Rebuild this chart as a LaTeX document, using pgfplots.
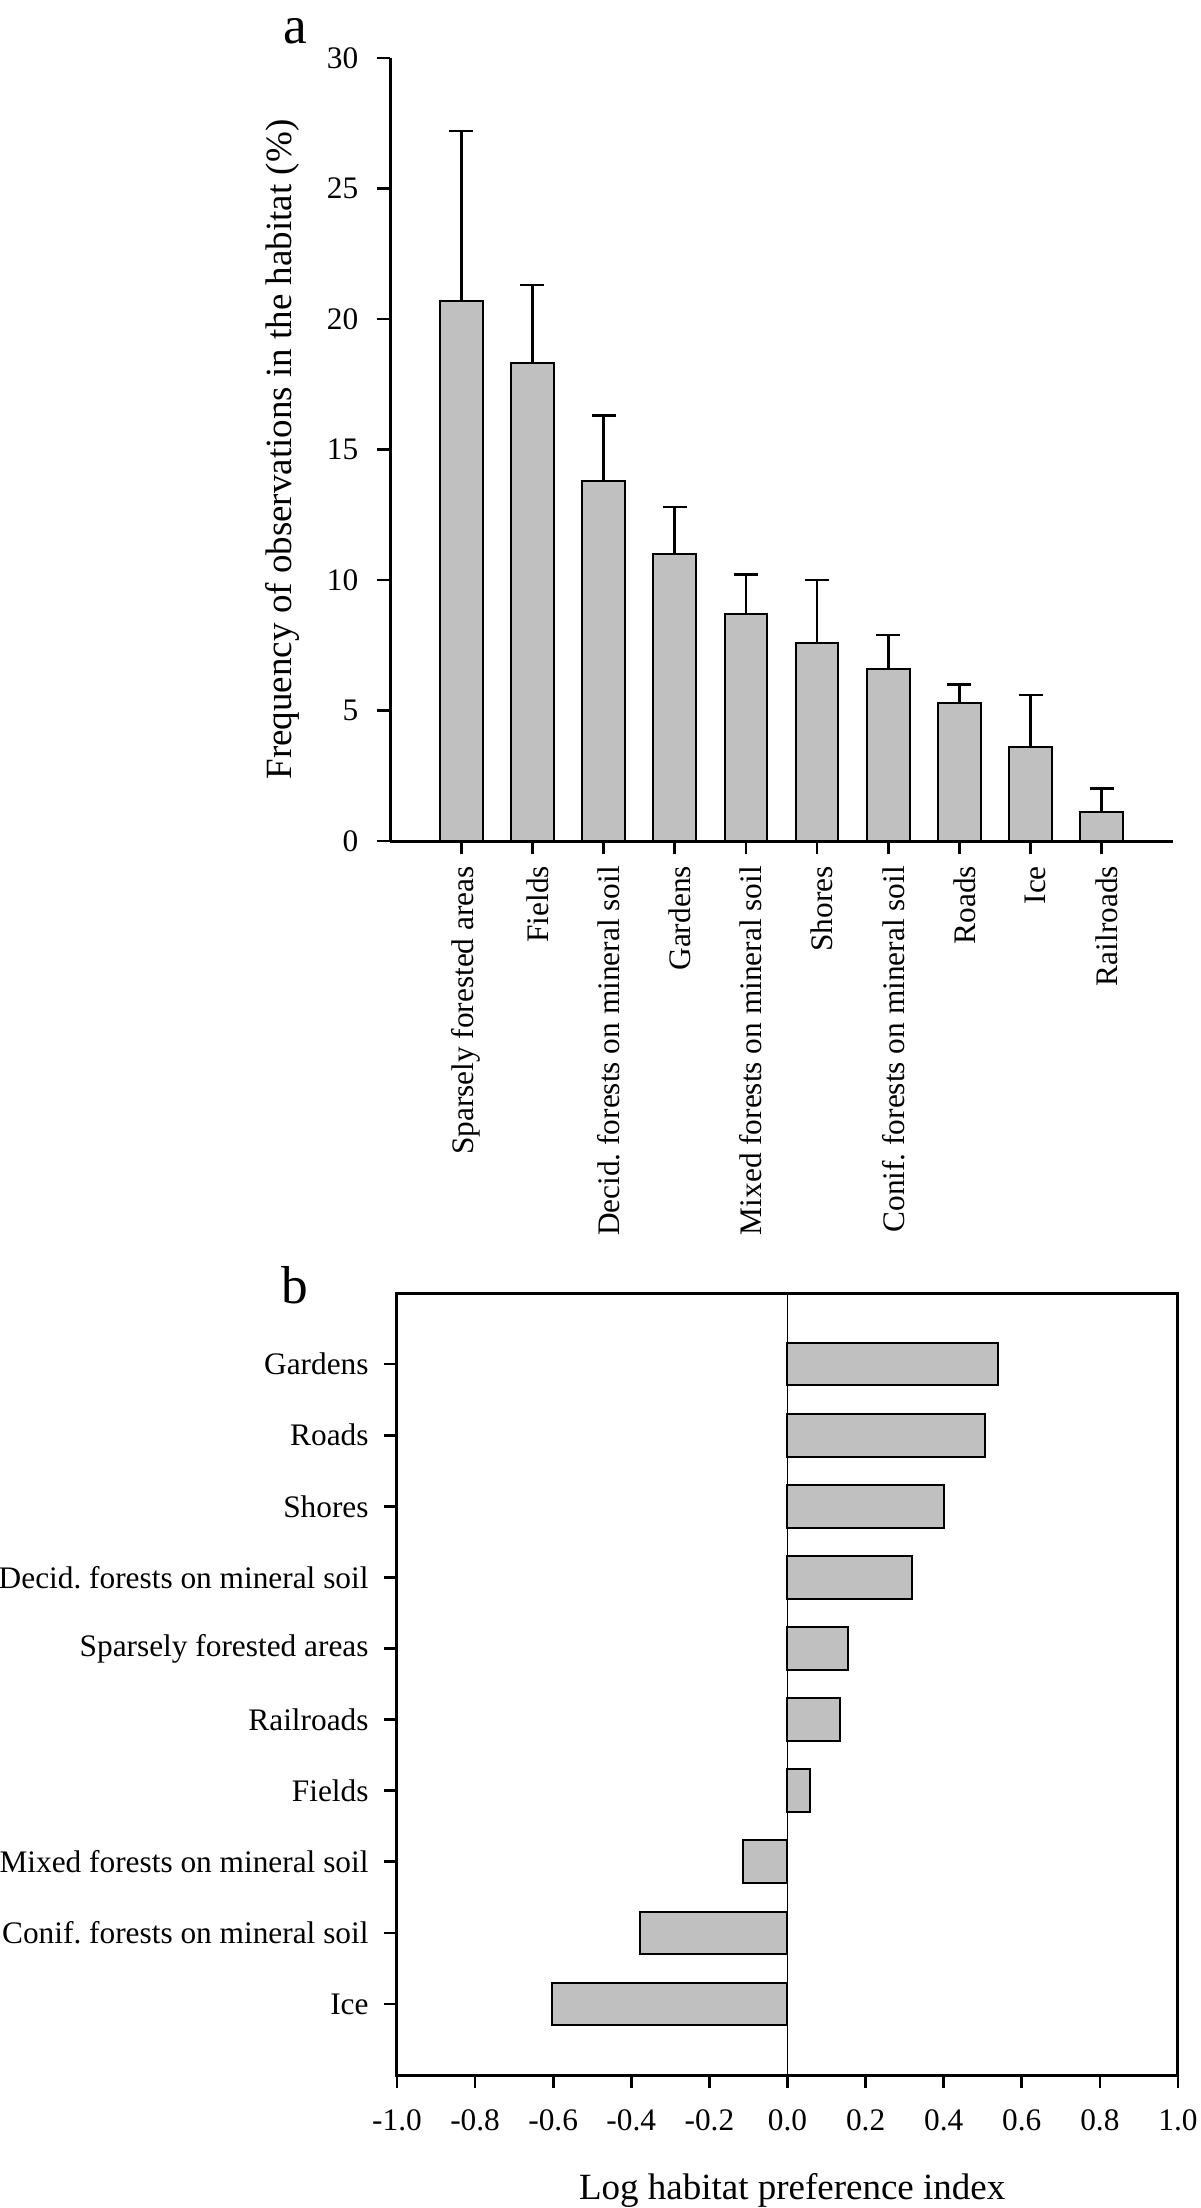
\documentclass[border=0pt]{standalone}
\usepackage{pgfplots}
\pgfplotsset{compat=1.18}
\usepackage{fontspec}
\setmainfont{Liberation Serif}
\definecolor{bargray}{RGB}{192,192,192}
\frenchspacing
\begin{document}
\begin{tikzpicture}
\useasboundingbox (0,0) rectangle (360pt,-662.4pt);
% ---------------- panel a ----------------
\begin{axis}[
  at={(117pt,-252.3pt)}, anchor=south west,
  scale only axis, width=234.9pt, height=234.9pt,
  axis lines=left, axis line style={-, line width=0.9pt},
  xmin=-1, xmax=10, ymin=0, ymax=30,
  ytick={0,5,...,30},
  xtick={0,...,9},
  xticklabels={Sparsely forested areas, Fields, Decid. forests on mineral soil, Gardens, Mixed forests on mineral soil, Shores, Conif. forests on mineral soil, Roads, Ice, Railroads},
  tick align=outside, major tick length=4pt,
  tick style={line width=0.8pt, black},
  /pgf/number format/assume math mode=true,
  ticklabel style={font=\fontsize{9.4}{10.5}\selectfont},
  yticklabel style={xshift=-2pt},
  xticklabel style={rotate=90, anchor=east, yshift=-1.5pt},
  ylabel={Frequency of observations in the habitat (\%)},
  ylabel style={at={(axis description cs:-0.1367,0.5)}, anchor=center, font=\fontsize{11.1}{13}\selectfont},
  clip=false,
]
\addplot[ybar, bar width=0.6, fill=bargray, draw=black, line width=0.6pt,
  error bars/.cd, y dir=plus, y explicit,
  error bar style={line width=0.8pt, black},
  error mark options={rotate=90, mark size=3.6pt, line width=0.8pt, black}]
  coordinates {
  (0,20.7) +- (0,6.5)
  (1,18.3) +- (0,3.0)
  (2,13.8) +- (0,2.5)
  (3,11.0) +- (0,1.8)
  (4,8.7) +- (0,1.5)
  (5,7.6) +- (0,2.4)
  (6,6.6) +- (0,1.3)
  (7,5.3) +- (0,0.7)
  (8,3.6) +- (0,2.0)
  (9,1.1) +- (0,0.9)
  };
\end{axis}
\node[anchor=base, font=\fontsize{16}{18}\selectfont, inner sep=0pt] at (88.5pt,-12.9pt) {a};
% ---------------- panel b ----------------
\begin{axis}[
  at={(119.1pt,-622.5pt)}, anchor=south west,
  scale only axis, width=234.3pt, height=234.6pt,
  axis line style={line width=0.9pt},
  xmin=-1, xmax=1, ymin=-1, ymax=10,
  xtick={-1,-0.8,...,1.01},
  xticklabels={-1.0,-0.8,-0.6,-0.4,-0.2,0.0,0.2,0.4,0.6,0.8,1.0},
  ytick={0,...,9},
  yticklabels={Ice, Conif. forests on mineral soil, Mixed forests on mineral soil, Fields, Railroads, Sparsely forested areas, Decid. forests on mineral soil, Shores, Roads, Gardens},
  xtick pos=bottom, ytick pos=left,
  tick align=outside, major tick length=4pt,
  tick style={line width=0.8pt, black},
  /pgf/number format/assume math mode=true,
  ticklabel style={font=\fontsize{9.4}{10.5}\selectfont},
  xticklabel style={yshift=-3pt},
  yticklabel style={xshift=-1pt},
  xlabel={Log habitat preference index},
  xlabel style={at={(axis description cs:0.506,-0.147)}, anchor=center, font=\fontsize{11.1}{13}\selectfont},
  clip=false,
]
\draw[line width=0.4pt] (axis cs:0,-1) -- (axis cs:0,10);
\addplot[xbar, bar width=0.6, fill=bargray, draw=black, line width=0.6pt]
  coordinates {
  (-0.602,0)
  (-0.378,1)
  (-0.113,2)
  (0.057,3)
  (0.134,4)
  (0.156,5)
  (0.318,6)
  (0.40,7)
  (0.505,8)
  (0.539,9)
  };
\end{axis}
\node[anchor=base, font=\fontsize{16}{18}\selectfont, inner sep=0pt] at (88.5pt,-390.9pt) {b};
\end{tikzpicture}
\end{document}
